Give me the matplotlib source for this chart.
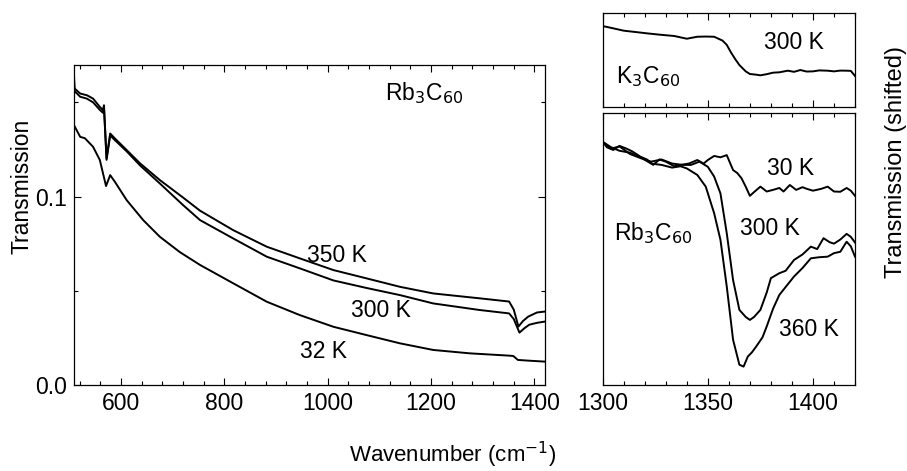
import matplotlib
matplotlib.use("Agg")
import matplotlib.pyplot as plt
from matplotlib.ticker import MultipleLocator, FormatStrFormatter

plt.rcParams['font.family'] = ['Liberation Sans', 'DejaVu Sans']

# left panel: Rb3C60, broad range
x350 = [509, 510, 521, 534, 546, 559, 565, 567, 572, 579, 588, 611, 637, 675, 720, 753, 817, 882, 946, 1011, 1075, 1140, 1204, 1294, 1351, 1360, 1369, 1378, 1388, 1405, 1421]
y350 = [0.1645, 0.1574, 0.1547, 0.1538, 0.152, 0.1476, 0.1459, 0.1485, 0.1203, 0.1335, 0.1309, 0.1247, 0.1176, 0.1088, 0.0995, 0.0925, 0.0822, 0.0734, 0.0672, 0.0610, 0.0566, 0.0521, 0.0486, 0.046, 0.0443, 0.040, 0.031, 0.034, 0.0363, 0.0385, 0.039]
x300 = [509, 510, 521, 534, 546, 559, 565, 567, 572, 579, 588, 611, 637, 675, 720, 753, 817, 882, 946, 1011, 1075, 1140, 1204, 1294, 1351, 1360, 1371, 1380, 1390, 1405, 1421]
y300 = [0.162, 0.156, 0.153, 0.152, 0.150, 0.146, 0.1445, 0.147, 0.1195, 0.1325, 0.130, 0.124, 0.1165, 0.1070, 0.0955, 0.0875, 0.0778, 0.0681, 0.0619, 0.0555, 0.0515, 0.0477, 0.0433, 0.0398, 0.038, 0.035, 0.0278, 0.030, 0.0320, 0.0330, 0.0337]
x32 = [509, 521, 530, 546, 559, 571, 579, 588, 611, 643, 675, 714, 753, 817, 882, 946, 1011, 1075, 1140, 1204, 1275, 1350, 1359, 1368, 1390, 1421]
y32 = [0.1379, 0.1317, 0.131, 0.1264, 0.1194, 0.1056, 0.1114, 0.1079, 0.0981, 0.0875, 0.0787, 0.0705, 0.0637, 0.054, 0.0442, 0.0371, 0.0309, 0.0265, 0.0221, 0.0186, 0.0168, 0.0156, 0.0154, 0.0133, 0.0129, 0.0124]

# right top: K3C60 300 K (arbitrary units)
xk = [1300, 1305, 1310, 1316, 1321, 1327, 1334, 1340, 1345, 1349, 1353, 1357, 1359, 1361, 1363, 1365, 1368, 1370, 1373, 1375, 1378, 1381, 1384, 1388, 1391, 1394, 1397, 1400, 1403, 1407, 1410, 1413, 1416, 1418, 1420]
yk = [0.859, 0.835, 0.81, 0.795, 0.782, 0.768, 0.754, 0.725, 0.746, 0.748, 0.746, 0.705, 0.66, 0.58, 0.51, 0.447, 0.38, 0.352, 0.345, 0.338, 0.35, 0.366, 0.37, 0.387, 0.375, 0.394, 0.378, 0.38, 0.39, 0.387, 0.38, 0.388, 0.387, 0.385, 0.331]

# right bottom: Rb3C60 (arbitrary units, shifted)
x30 = [1300, 1302, 1305, 1308, 1311, 1314, 1318, 1321, 1324, 1327, 1330, 1334, 1337, 1341, 1345, 1348, 1350, 1353, 1356, 1359, 1362, 1364, 1366, 1368, 1370, 1372, 1375, 1378, 1381, 1384, 1386, 1389, 1392, 1395, 1397, 1400, 1404, 1407, 1410, 1413, 1416, 1418, 1420]
y30 = [0.895, 0.875, 0.865, 0.88, 0.871, 0.86, 0.84, 0.83, 0.81, 0.83, 0.822, 0.805, 0.81, 0.815, 0.828, 0.815, 0.828, 0.843, 0.838, 0.846, 0.791, 0.78, 0.761, 0.73, 0.696, 0.71, 0.730, 0.712, 0.718, 0.725, 0.712, 0.736, 0.718, 0.728, 0.722, 0.715, 0.722, 0.730, 0.712, 0.711, 0.725, 0.715, 0.696]
x300r = [1300, 1304, 1308, 1313, 1318, 1323, 1328, 1333, 1338, 1342, 1346, 1350, 1353, 1356, 1359, 1362, 1365, 1368, 1370, 1372, 1375, 1378, 1380, 1384, 1387, 1391, 1395, 1399, 1402, 1405, 1408, 1410, 1413, 1416, 1418, 1420]
y300r = [0.895, 0.87, 0.878, 0.85, 0.835, 0.822, 0.83, 0.815, 0.81, 0.81, 0.822, 0.803, 0.767, 0.705, 0.558, 0.386, 0.276, 0.25, 0.239, 0.25, 0.276, 0.34, 0.393, 0.411, 0.42, 0.46, 0.48, 0.509, 0.50, 0.540, 0.525, 0.52, 0.535, 0.556, 0.545, 0.524]
x360 = [1300, 1304, 1308, 1313, 1318, 1323, 1328, 1333, 1337, 1340, 1345, 1349, 1353, 1356, 1359, 1362, 1365, 1367, 1369, 1371, 1373, 1376, 1378, 1381, 1384, 1388, 1391, 1395, 1399, 1403, 1407, 1410, 1413, 1416, 1418, 1420]
y360 = [0.895, 0.875, 0.862, 0.855, 0.838, 0.815, 0.81, 0.80, 0.805, 0.797, 0.773, 0.730, 0.632, 0.534, 0.362, 0.166, 0.074, 0.067, 0.104, 0.12, 0.141, 0.175, 0.215, 0.28, 0.331, 0.37, 0.399, 0.43, 0.466, 0.47, 0.472, 0.485, 0.49, 0.527, 0.51, 0.472]

fs = 16.5
lw = 1.4

fig = plt.figure(figsize=(9.07, 4.71), dpi=100)
ax1 = fig.add_axes([0.0813, 0.1826, 0.5199, 0.6800])
ax2 = fig.add_axes([0.6645, 0.7722, 0.2782, 0.2008])
ax3 = fig.add_axes([0.6645, 0.1830, 0.2782, 0.5764])

ax1.plot(x350, y350, color='black', lw=lw)
ax1.plot(x300, y300, color='black', lw=lw)
ax1.plot(x32, y32, color='black', lw=lw)
ax1.set_xlim(508.5, 1421)
ax1.set_ylim(0, 0.17)
ax1.xaxis.set_major_locator(MultipleLocator(200))
ax1.xaxis.set_minor_locator(MultipleLocator(40))
ax1.yaxis.set_major_locator(MultipleLocator(0.1))
ax1.yaxis.set_minor_locator(MultipleLocator(0.05))
ax1.yaxis.set_major_formatter(FormatStrFormatter('%.1f'))
ax1.text(1017, 0.0685, '350 K', fontsize=fs, ha='center', va='center')
ax1.text(1102, 0.0394, '300 K', fontsize=fs, ha='center', va='center')
ax1.text(991, 0.0177, '32 K', fontsize=fs, ha='center', va='center')
ax1.text(1187, 0.155, r'Rb$_3$C$_{60}$', fontsize=fs, ha='center', va='center')

ax2.plot(xk, yk, color='black', lw=lw)
ax2.set_ylim(0, 1)
ax2.text(1390.8, 0.683, '300 K', fontsize=fs, ha='center', va='center')
ax2.text(1321.7, 0.323, r'K$_3$C$_{60}$', fontsize=fs, ha='center', va='center')

ax3.plot(x30, y30, color='black', lw=lw)
ax3.plot(x300r, y300r, color='black', lw=lw)
ax3.plot(x360, y360, color='black', lw=lw)
ax3.set_ylim(0, 1)
ax3.text(1389.2, 0.797, '30 K', fontsize=fs, ha='center', va='center')
ax3.text(1379.6, 0.577, '300 K', fontsize=fs, ha='center', va='center')
ax3.text(1397.9, 0.202, '360 K', fontsize=fs, ha='center', va='center')
ax3.text(1324, 0.558, r'Rb$_3$C$_{60}$', fontsize=fs, ha='center', va='center')

for ax in (ax2, ax3):
    ax.set_xlim(1300, 1420)
    ax.xaxis.set_major_locator(MultipleLocator(50))
    ax.xaxis.set_minor_locator(MultipleLocator(10))
    ax.set_yticks([])

for ax in (ax1, ax2, ax3):
    ax.tick_params(which='both', direction='in', top=True, right=True, labelsize=fs, width=0.8)
    ax.tick_params(which='major', length=5, pad=5)
    ax.tick_params(which='minor', length=3)
    for s in ax.spines.values():
        s.set_linewidth(0.9)
ax2.tick_params(labelbottom=False)

fig.text(0.024, 0.604, 'Transmission', rotation=90, fontsize=fs, ha='center', va='center')
fig.text(0.988, 0.655, 'Transmission (shifted)', rotation=90, fontsize=17, ha='center', va='center')
fig.text(0.4995, 0.034, r'Wavenumber (cm$^{-1}$)', fontsize=16, ha='center', va='center')

fig.savefig('out.png', dpi=100)
